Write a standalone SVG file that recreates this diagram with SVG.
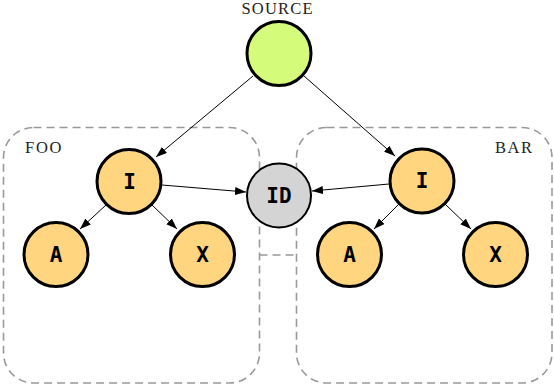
<svg xmlns="http://www.w3.org/2000/svg" width="554" height="386" viewBox="0 0 554 386">
<style>
.box{fill:none;stroke:#999;stroke-width:1.6;stroke-dasharray:8 5}
.node{stroke:#000;stroke-width:3}
.src{fill:#d5fb7b}
.org{fill:#ffd57f}
.idn{fill:#d4d4d4;stroke:#000;stroke-width:2}
.lbl{font-family:"DejaVu Sans Mono",monospace;font-weight:bold;font-size:21px;text-anchor:middle;fill:#000}
.cap{font-family:"Liberation Serif",serif;font-size:16.5px;fill:#222}
.edge{stroke:#000;stroke-width:1;fill:none;marker-end:url(#ah)}
</style>
<defs>
<marker id="ah" markerUnits="userSpaceOnUse" markerWidth="12" markerHeight="10" refX="11" refY="4" orient="auto">
<path d="M0,0 L11,4 L0,8 Z" fill="#000"/>
</marker>
</defs>
<g id="clusters">
<rect id="foo" class="box" x="3.5" y="127.5" width="256" height="255.5" rx="30"/>
<rect id="bar" class="box" x="296.5" y="127.5" width="255.5" height="255.5" rx="30"/>
<line class="box" x1="259.5" y1="255" x2="296.5" y2="255"/>
<text class="cap" x="25" y="152.7" textLength="36.5" lengthAdjust="spacing">FOO</text>
<text class="cap" x="495" y="152.7" textLength="37" lengthAdjust="spacing">BAR</text>
</g>
<g id="connectors">
<path class="edge" d="M253,76 L156,157"/>
<path class="edge" d="M304,76 L395,156"/>
<path class="edge" d="M162,185 L246,192"/>
<path class="edge" d="M389,184 L312,191"/>
<path class="edge" d="M106,205 L80,229"/>
<path class="edge" d="M152,205 L177,229"/>
<path class="edge" d="M399,204 L374,229"/>
<path class="edge" d="M445,204 L471,229"/>
</g>
<g id="source">
<text class="cap" x="241.5" y="13.5" textLength="71" lengthAdjust="spacing">SOURCE</text>
<circle class="node src" cx="279" cy="53.5" r="32"/>
</g>
<g id="id">
<circle class="idn" cx="279" cy="195.5" r="32"/>
<text class="lbl" x="279" y="202.7">ID</text>
</g>
<g id="foo_i">
<circle class="node org" cx="129" cy="181.5" r="32"/>
<text class="lbl" x="129.5" y="188.5">I</text>
</g>
<g id="foo_a">
<circle class="node org" cx="56" cy="254.5" r="32"/>
<text class="lbl" x="56" y="261.8">A</text>
</g>
<g id="foo_x">
<circle class="node org" cx="202.5" cy="254.5" r="32"/>
<text class="lbl" x="202.5" y="261.8">X</text>
</g>
<g id="bar_i">
<circle class="node org" cx="422" cy="181" r="32"/>
<text class="lbl" x="422" y="188.3">I</text>
</g>
<g id="bar_a">
<circle class="node org" cx="349.5" cy="254.5" r="32"/>
<text class="lbl" x="349.5" y="261.8">A</text>
</g>
<g id="bar_x">
<circle class="node org" cx="495.5" cy="254.5" r="32"/>
<text class="lbl" x="495.5" y="261.8">X</text>
</g>
</svg>
